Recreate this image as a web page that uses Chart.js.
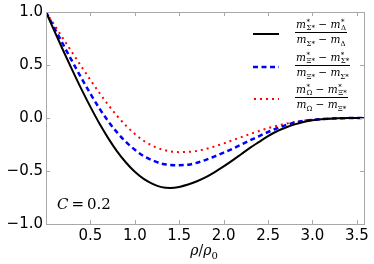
<!DOCTYPE html>
<html>
<head>
<meta charset="utf-8">
<script src="https://cdn.jsdelivr.net/npm/chart.js@4.4.0/dist/chart.umd.min.js"></script>
<style>
html, body { margin: 0; padding: 0; background: #fff; }
#wrap { position: relative; width: 374px; height: 264px; }
#c { position: absolute; left: 0; top: 0; }
.leg { position: absolute; left: 252px; width: 112px; height: 30px; display: flex; align-items: center; }
.leg svg { flex: none; }
.frac { display: inline-flex; flex-direction: column; align-items: center; font-family: 'DejaVu Serif', serif; font-size: 10.5px; line-height: 11px; margin-left: 15px; white-space: nowrap; }
.frac .num { border-bottom: 1px solid #000; padding: 0 1px 1px; }
.frac .den { padding-top: 1px; }
.frac i { font-style: italic; }
.ss { display: inline-flex; flex-direction: column; vertical-align: middle; font-size: 7px; line-height: 6px; margin-left: 0.5px; }
.sb { font-size: 7px; vertical-align: -3px; }
#cl { position: absolute; left: 57px; top: 195px; font-family: 'DejaVu Serif', serif; font-size: 15px; }
#xt { position: absolute; left: 0; width: 408px; top: 242px; text-align: center; font-family: 'DejaVu Serif', serif; font-size: 14px; }
</style>
</head>
<body>
<div id="wrap">
  <canvas id="c" width="374" height="264"></canvas>
  <div class="leg" style="top:19px">
    <svg width="28" height="6"><line x1="1" y1="3" x2="27" y2="3" stroke="#000" stroke-width="2"/></svg>
    <span class="frac">
      <span class="num"><i>m</i><span class="ss"><span>*</span><span>Σ*</span></span> − <i>m</i><span class="ss"><span>*</span><span>Δ</span></span></span>
      <span class="den"><i>m</i><span class="sb">Σ*</span> − <i>m</i><span class="sb">Δ</span></span>
    </span>
  </div>
  <div class="leg" style="top:52px">
    <svg width="28" height="6"><line x1="1" y1="3" x2="27" y2="3" stroke="#0000ff" stroke-width="2.5" stroke-dasharray="5,3.5"/></svg>
    <span class="frac">
      <span class="num"><i>m</i><span class="ss"><span>*</span><span>Ξ*</span></span> − <i>m</i><span class="ss"><span>*</span><span>Σ*</span></span></span>
      <span class="den"><i>m</i><span class="sb">Ξ*</span> − <i>m</i><span class="sb">Σ*</span></span>
    </span>
  </div>
  <div class="leg" style="top:84px">
    <svg width="28" height="6"><line x1="2" y1="3" x2="27" y2="3" stroke="#ff0000" stroke-width="2" stroke-dasharray="2,4"/></svg>
    <span class="frac">
      <span class="num"><i>m</i><span class="ss"><span>*</span><span>Ω</span></span> − <i>m</i><span class="ss"><span>*</span><span>Ξ*</span></span></span>
      <span class="den"><i>m</i><span class="sb">Ω</span> − <i>m</i><span class="sb">Ξ*</span></span>
    </span>
  </div>
  <div id="cl"><i>C</i>&thinsp;=&thinsp;0.2</div>
  <div id="xt"><i>ρ</i>/<i>ρ</i><sub style="font-size:10px">0</sub></div>
</div>
<script>
const rho = [0, 0.1, 0.2, 0.3, 0.4, 0.5, 0.6, 0.7, 0.8, 0.9, 1.0, 1.1, 1.2, 1.3, 1.4, 1.5, 1.6, 1.7,
             1.8, 1.9, 2.0, 2.1, 2.2, 2.3, 2.4, 2.5, 2.6, 2.7, 2.8, 2.9, 3.0, 3.1, 3.2, 3.4, 3.58];
const sigmaDelta = [1, 0.81, 0.625, 0.445, 0.27, 0.105, -0.05, -0.19, -0.315, -0.42, -0.508, -0.575,
                    -0.622, -0.652, -0.66, -0.65, -0.628, -0.597, -0.558, -0.51, -0.457, -0.4, -0.34,
                    -0.28, -0.225, -0.17, -0.125, -0.09, -0.06, -0.038, -0.022, -0.012, -0.006, -0.001, 0];
const xiSigma = [1, 0.84, 0.682, 0.527, 0.375, 0.229, 0.092, -0.03, -0.136, -0.226, -0.299, -0.36,
                 -0.4, -0.43, -0.443, -0.445, -0.44, -0.422, -0.395, -0.362, -0.327, -0.29, -0.25,
                 -0.21, -0.17, -0.132, -0.097, -0.067, -0.044, -0.028, -0.017, -0.01, -0.005, -0.001, 0];
const omegaXi = [1, 0.87, 0.74, 0.611, 0.484, 0.359, 0.238, 0.124, 0.02, -0.072, -0.15, -0.215, -0.262,
                 -0.295, -0.315, -0.322, -0.32, -0.31, -0.292, -0.268, -0.24, -0.21, -0.18, -0.15,
                 -0.122, -0.096, -0.073, -0.054, -0.038, -0.025, -0.016, -0.009, -0.005, -0.001, 0];
const xTicks = [0.5, 1.0, 1.5, 2.0, 2.5, 3.0, 3.5];
const yTicks = [-1.0, -0.5, 0.0, 0.5, 1.0];

const pts = ys => rho.map((x, i) => ({ x: x, y: ys[i] }));

// frame and inward ticks on all four sides
const framePlugin = {
    id: 'frame',
    afterDraw(chart) {
        const ctx = chart.ctx;
        const a = chart.chartArea;
        const sx = chart.scales.x, sy = chart.scales.y;
        ctx.save();
        ctx.strokeStyle = '#a8a8a8';
        ctx.lineWidth = 1;
        ctx.strokeRect(Math.round(a.left) + 0.5, Math.round(a.top) + 0.5,
                       Math.round(a.right - a.left), Math.round(a.bottom - a.top));
        ctx.beginPath();
        xTicks.forEach(v => {
            const px = Math.round(sx.getPixelForValue(v)) + 0.5;
            ctx.moveTo(px, a.top); ctx.lineTo(px, a.top + 4);
            ctx.moveTo(px, a.bottom); ctx.lineTo(px, a.bottom - 4);
        });
        yTicks.forEach(v => {
            const py = Math.round(sy.getPixelForValue(v)) + 0.5;
            ctx.moveTo(a.left, py); ctx.lineTo(a.left + 4, py);
            ctx.moveTo(a.right, py); ctx.lineTo(a.right - 4, py);
        });
        ctx.stroke();
        ctx.restore();
    }
};

new Chart(document.getElementById('c'), {
    type: 'line',
    data: {
        datasets: [
            { data: pts(sigmaDelta), borderColor: '#000000', borderWidth: 2 },
            { data: pts(xiSigma), borderColor: '#0000ff', borderWidth: 2.5, borderDash: [5, 3.5] },
            { data: pts(omegaXi), borderColor: '#ff0000', borderWidth: 2, borderDash: [2, 4] }
        ]
    },
    options: {
        responsive: false,
        animation: false,
        events: [],
        cubicInterpolationMode: 'monotone',
        elements: { point: { radius: 0 } },
        layout: { padding: { left: 0, right: 10, top: 12, bottom: 0 } },
        plugins: { legend: { display: false }, tooltip: { enabled: false } },
        scales: {
            x: {
                type: 'linear', min: 0, max: 3.58,
                afterBuildTicks: s => { s.ticks = xTicks.map(v => ({ value: v })); },
                afterFit: s => { s.height = 40; },
                grid: { display: false, drawTicks: false },
                border: { display: false },
                ticks: { padding: 3, color: '#000', font: { family: 'DejaVu Sans', size: 15 },
                         callback: v => v.toFixed(1) }
            },
            y: {
                type: 'linear', min: -1, max: 1,
                afterBuildTicks: s => { s.ticks = yTicks.map(v => ({ value: v })); },
                afterFit: s => { s.width = 46; },
                grid: { display: false, drawTicks: false },
                border: { display: false },
                ticks: { padding: 3, color: '#000', font: { family: 'DejaVu Sans', size: 15 },
                         callback: v => v.toFixed(1).replace('-', '\u2212') }
            }
        }
    },
    plugins: [framePlugin]
});
</script>
</body>
</html>
